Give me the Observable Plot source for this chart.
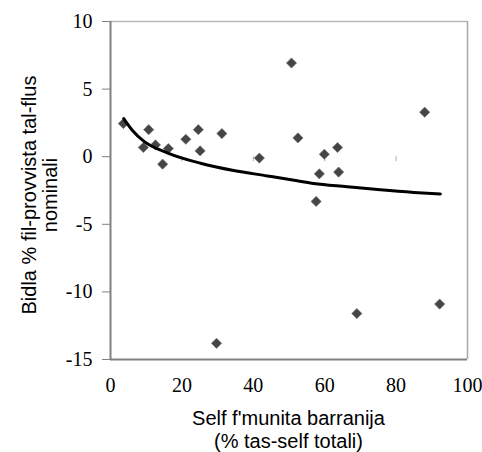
<!DOCTYPE html>
<html>
<head>
<meta charset="utf-8">
<script src="https://cdn.jsdelivr.net/npm/d3@7"></script>
<script src="https://cdn.jsdelivr.net/npm/@observablehq/plot@0.6"></script>
<style>
  html, body { margin: 0; padding: 0; background: #fff; }
  #chart { width: 482px; height: 452px; }
</style>
</head>
<body>
<div id="chart"></div>
<script>
// Foreign-currency deposits (% of total deposits)
const selfShare = [3.6, 10.7, 9.2, 12.6, 16.2, 14.6, 21.1, 24.6, 25.1, 31.2, 41.7,
  50.7, 52.5, 59.9, 63.6, 58.5, 63.9, 88.0, 29.7, 57.6, 69.0, 92.2];
// Change % in nominal money supply
const moneyChange = [2.45, 2.0, 0.68, 0.87, 0.6, -0.55, 1.29, 2.0, 0.43, 1.71, -0.1,
  6.93, 1.39, 0.18, 0.68, -1.27, -1.14, 3.29, -13.8, -3.31, -11.6, -10.9];

// Trend line
const trendX = [3.7, 6.1, 9.3, 15.9, 25.2, 34.5, 43.9, 52.3, 56.9, 66.3, 75.6, 85.0, 92.4];
const trendY = [2.82, 1.96, 1.15, 0.29, -0.48, -1.02, -1.42, -1.78, -1.98, -2.22, -2.45, -2.64, -2.75];

const xTicks = [0, 20, 40, 60, 80, 100];
const yTicks = [-15, -10, -5, 0, 5, 10];
const innerTicks = [20, 40, 60, 80];

const yTitle = ["Bidla % fil-provvista tal-flus", "nominali"];
const xTitle = ["Self f'munita barranija", "(% tas-self totali)"];

const points = selfShare.map((x, i) => ({x, y: moneyChange[i]}));
const trend = trendX.map((x, i) => ({x, y: trendY[i]}));

const W = 482, H = 452;
const chart = Plot.plot({
  width: W,
  height: H,
  marginLeft: 110,
  marginRight: 15,
  marginTop: 21,
  marginBottom: 93,
  style: {background: "#fff", overflow: "visible"},
  x: {domain: [0, 100]},
  y: {domain: [-15, 10]},
  marks: [
    Plot.ruleY([10], {stroke: "#b8b8b8", strokeWidth: 1.5}),
    Plot.ruleX([100], {stroke: "#a8a8a8", strokeWidth: 1.5}),
    Plot.ruleX(innerTicks, {y1: 0, y2: 0, insetBottom: -5, stroke: "#aaa", strokeWidth: 1}),
    Plot.ruleX([0], {stroke: "#808080", strokeWidth: 2}),
    Plot.ruleY([-15], {stroke: "#808080", strokeWidth: 2}),
    Plot.axisY({ticks: yTicks, tickSize: 8, tickPadding: 10, label: null,
      tickFormat: d => String(d), fontSize: 20, stroke: "#808080", color: "#000"}),
    Plot.axisX({ticks: xTicks, tickSize: 0, tickPadding: 18, label: null,
      tickFormat: d => String(d), fontSize: 20, color: "#000"}),
    Plot.dot(points, {x: "x", y: "y", symbol: "diamond2", r: 4.6, fill: "#454545", stroke: "#6a6a6a", strokeWidth: 0.6}),
    Plot.line(trend, {x: "x", y: "y", curve: "monotone-x", stroke: "#000", strokeWidth: 3})
  ]
});
document.getElementById("chart").appendChild(chart);

const svg = d3.select(chart);
// serif tick labels
svg.selectAll("text")
  .style("font-family", "'Liberation Serif', 'Times New Roman', serif")
  .style("font-size", "20px");

const cy = 195;
const cx = (110 + (W - 15)) / 2;
const sans = "'Liberation Sans', Arial, sans-serif";
const yt = svg.append("g").attr("fill", "#000").attr("text-anchor", "middle");
yt.append("text").attr("transform", `translate(36,${cy}) rotate(-90)`)
  .style("font-family", sans).style("font-size", "20px").text(yTitle[0]);
yt.append("text").attr("transform", `translate(57,${cy}) rotate(-90)`)
  .style("font-family", sans).style("font-size", "20px").text(yTitle[1]);
const xt = svg.append("g").attr("fill", "#000").attr("text-anchor", "middle");
xt.append("text").attr("x", cx).attr("y", 425)
  .style("font-family", sans).style("font-size", "20px").text(xTitle[0]);
xt.append("text").attr("x", cx).attr("y", 448)
  .style("font-family", sans).style("font-size", "20px").text(xTitle[1]);
</script>
</body>
</html>
